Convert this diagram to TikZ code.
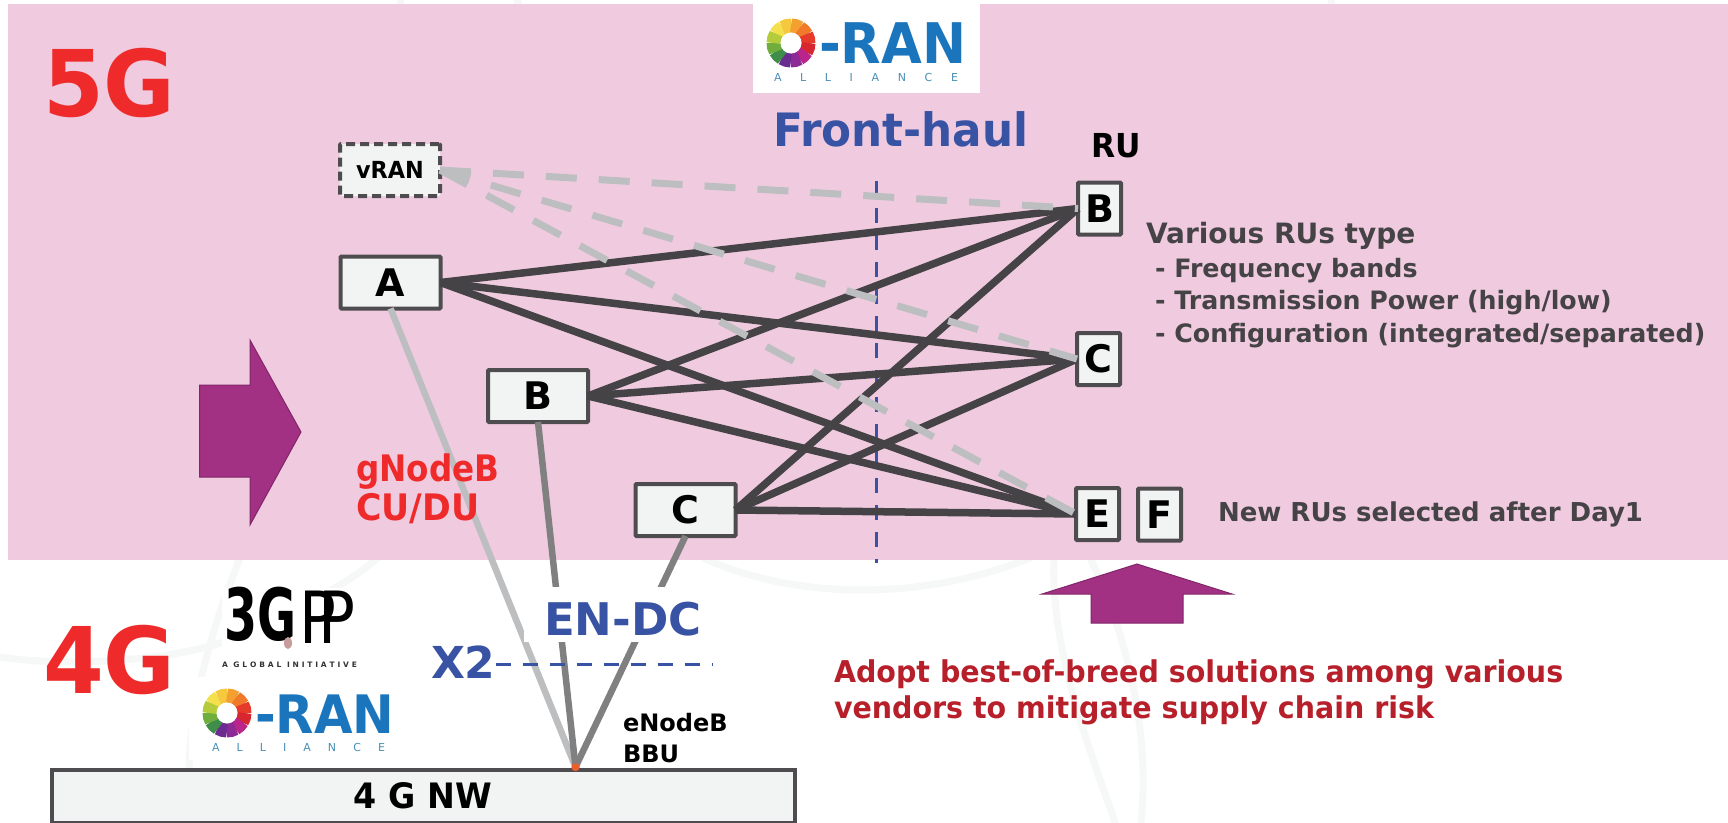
\documentclass[tikz,border=0pt]{standalone}
\usepackage{fontspec}
\setmainfont{DejaVu Sans}
\newfontfamily\narrowf{DejaVu Sans}[FakeStretch=0.95]
\usetikzlibrary{calc}
\definecolor{pinkbg}{HTML}{F0CBE0}
\definecolor{boxfill}{HTML}{F2F4F3}
\definecolor{darkline}{HTML}{454345}
\definecolor{lightline}{HTML}{BCBEC0}
\definecolor{midline}{HTML}{808080}
\definecolor{bluetxt}{HTML}{3953A4}
\definecolor{redtxt}{HTML}{EE2A2A}
\definecolor{darkred}{HTML}{B7202A}
\definecolor{purplearrow}{HTML}{A23083}
\definecolor{swoosh}{HTML}{F6F7F7}
\definecolor{oranblue}{HTML}{1B75BC}
\definecolor{oransmall}{HTML}{4A8FB5}
\definecolor{dotc}{HTML}{E8602C}
\newcommand{\fsz}[1]{\fontsize{#1}{#1}\selectfont\bfseries}
\newcommand{\fsn}[1]{\fontsize{#1}{#1}\selectfont\narrowf\bfseries}
\newcommand{\fsr}[1]{\fontsize{#1}{#1}\selectfont}
\tikzset{
  every node/.style={inner sep=0pt,outer sep=0pt},
  netbox/.style={draw=darkline!95!white,fill=boxfill,line width=4pt,rounded corners=1pt,minimum width=#1,minimum height=52pt,font=\fsz{38},text=black},
  rubox/.style={draw=darkline!95!white,fill=boxfill,line width=4pt,rounded corners=1pt,minimum width=43pt,minimum height=52pt,font=\fsz{38},text=black},
  vranbox/.style={netbox=100pt,dashed,dash pattern=on 9pt off 5pt,font=\fsn{23.5}},
  gnb/.style={anchor=base west,font=\fsn{36.5},text=redtxt},
  bigtxt/.style={anchor=base west,font=\fsn{92},text=redtxt},
  bluelabel/.style={anchor=base west,font=\fsn{46},text=bluetxt},
  rutxt/.style={anchor=base west,font=\fsz{25.3},text=darkline},
  adopttxt/.style={anchor=base west,font=\fsn{30},text=darkred},
  enbtxt/.style={anchor=base west,font=\fsz{24},text=black},
  ifline/.style={draw=darkline,line width=7.5pt},
  vline/.style={draw=lightline,line width=7pt,dash pattern=on 31pt off 22pt},
  backhaul/.style={line width=6.5pt},
  bluedash/.style={draw=bluetxt,line width=3pt,dash pattern=on 15pt off 12pt},
  blockarrow/.style={fill=purplearrow,draw=purplearrow!80!black,line width=1pt},
  swooshline/.style={draw=swoosh,line width=7pt,line cap=round},
  logobg/.style={fill=white,draw=none},
}
\newcommand{\oranring}[2]{%
  \begin{scope}[shift={(#1,#2)}]
  \foreach \aa/\cc in {150/F4E04D,120/F6C83E,90/F4A031,60/F07A2A,30/E63B2A,0/D8262F,-30/B9258A,-60/8E2A96,-90/6A2C91,-120/3E8E4A,-150/6FAE3C,180/B4CC3C}{
    \definecolor{ringc}{HTML}{\cc}
    \draw[line width=14pt,ringc] (\aa:17.5pt) arc[start angle=\aa,delta angle=-32,radius=17.5pt];
  }
  \fill[white] (0,0) circle (10.5pt);
  \end{scope}%
}
\begin{document}
\begin{tikzpicture}[x=1pt,y=-1pt]
\useasboundingbox (0,0) rectangle (1728,822);
\fill[white] (0,0) rectangle (1728,822);
% faint background curves
\draw[swooshline] (0,657) .. controls (70,668) and (190,660) .. (240,635) .. controls (290,612) and (340,590) .. (378,558);
\draw[swooshline] (240,558) .. controls (215,620) and (190,700) .. (189,768);
\draw[swooshline] (704,558) .. controls (770,590) and (900,610) .. (1030,558);
\draw[swooshline] (1054,558) .. controls (1050,650) and (1090,750) .. (1115,822);
\draw[swooshline] (1090,558) .. controls (1130,640) and (1150,740) .. (1141,822);
\draw[swooshline] (400,0) -- (400,6);
\draw[swooshline] (517,0) -- (519,6);
\draw[swooshline] (1331,0) -- (1331,6);
% pink panel
\fill[pinkbg] (8,4) rectangle (1728,560);
% top logo
\fill[logobg] (753,4) rectangle (980,93);
\oranring{791}{43}
\node[anchor=base west,font=\fsz{56},text=oranblue] (oranTop) at (819,63) {\scalebox{.94}[1]{-RAN}};
\node[anchor=base west,font=\fsr{11},text=oransmall] (allianceTop) at (774,81) {\makebox[184pt][s]{A\hfil L\hfil L\hfil I\hfil A\hfil N\hfil C\hfil E}};
% titles
\node[bigtxt] (t5g) at (43,116) {5G};
\node[bigtxt] (t4g) at (43,693) {4G};
\node[bluelabel] (fronthaul) at (773,146) {Front-haul};
\node[anchor=base west,font=\fsn{33},text=black] (ru) at (1091,157) {RU};
% block arrows
\path[blockarrow] (199.5,385) -- (250,385) -- (250,340) -- (301,432) -- (250,525) -- (250,477) -- (199.5,477) -- cycle;
\path[blockarrow] (1137,564) -- (1232,594) -- (1183,594) -- (1183,623) -- (1091,623) -- (1091,594) -- (1042,594) -- cycle;
% divider
\coordinate (fhTop) at (876,181);
\coordinate (fhBot) at (876,563);
\draw[bluedash] (fhTop) -- (fhBot);
% nodes
\node[vranbox] (vran) at (390,170) {vRAN};
\node[netbox=100pt] (duA) at (390.5,282.5) {A};
\node[netbox=100pt] (duB) at (538,396) {B};
\node[netbox=100pt] (duC) at (685.5,510) {C};
\node[rubox] (ruB) at (1099.5,208.5) {B};
\node[rubox] (ruC) at (1098.5,359) {C};
\node[rubox] (ruE) at (1097.5,514) {E};
\node[rubox] (ruF) at (1159.5,514.5) {F};
\node[draw=darkline!95!white,fill=boxfill,line width=4pt,minimum width=743pt,minimum height=53pt,font=\fsn{35},text=black] (nw) at (423,796) {4 G NW};
\node[circle,fill=dotc,minimum size=8pt] (dot) at (575.5,767) {};
% interfaces
\foreach \s in {duA,duB,duC}{
  \foreach \t in {ruB,ruC,ruE}{
    \draw[ifline] (\s.east) -- (\t.west);
  }
}
\foreach \t in {ruB,ruC,ruE}{
  \draw[vline] (vran.east) -- (\t.west);
}
% backhaul
\draw[backhaul,draw=lightline] (duA.south) -- (dot.center);
\draw[backhaul,draw=midline] (duB.south) -- (dot.center);
\draw[backhaul,draw=midline] (duC.south) -- (dot.center);
\node[circle,fill=dotc,minimum size=8pt] (dotTop) at (dot.center) {};
% EN-DC and X2
\node[fill=white,minimum width=176pt,minimum height=55pt] (endcBg) at (612,614.5) {};
\node[anchor=base west,font=\fsz{45},text=bluetxt] (endc) at (544,635) {EN-DC};
\node[anchor=base west,font=\fsz{44},text=bluetxt] (x2) at (431,678) {X2};
\coordinate (xEnd) at (712,664);
\draw[bluedash] (x2.east |- xEnd) -- (xEnd);
% texts
\node[gnb] (gnb1) at (356,481) {\scalebox{.94}[1]{gNodeB}};
\node[gnb] (gnb2) at (356,520) {CU/DU};
\node[anchor=base west,font=\fsz{28},text=darkline] (rutitle) at (1146,243) {Various RUs type};
\node[rutxt] (ru1) at (1155,277) {- Frequency bands};
\node[rutxt] (ru2) at (1155,309) {- Transmission Power (high/low)};
\node[rutxt] (ru3) at (1155,342) {- Configuration (integrated/separated)};
\node[anchor=base west,font=\fsz{26},text=darkline] (newru) at (1218,521) {New RUs selected after Day1};
\node[adopttxt] (adopt1) at (834,682) {Adopt best-of-breed solutions among various};
\node[adopttxt] (adopt2) at (834,718) {vendors to mitigate supply chain risk};
\node[enbtxt] (enb1) at (623,731) {eNodeB};
\node[enbtxt] (enb2) at (623,762) {BBU};
% 3GPP logo
\fill[logobg] (222,588) rectangle (357,668);
\node[anchor=base west,font=\fsz{72},text=black] (tgA) at (224,640) {\scalebox{.66}[1]{3G}};
\node[anchor=base west,font=\fsr{72},text=black] (tgB) at (299,643) {\scalebox{.85}[1]{P\kern-20pt P}};
\fill[red!30!gray!60] (288,643) ellipse (4pt and 6pt);
\node[anchor=base west,font=\fsz{7.5},text=black!80] (tgC) at (222,667) {\makebox[135pt][s]{A\hfil\hfil G\hfil L\hfil O\hfil B\hfil A\hfil L\hfil\hfil I\hfil N\hfil I\hfil T\hfil I\hfil A\hfil T\hfil I\hfil V\hfil E}};
% lower logo
\fill[logobg] (189,677) rectangle (398,760);
\oranring{227}{713}
\node[anchor=base west,font=\fsz{53},text=oranblue] (oranLow) at (255,733) {\scalebox{.94}[1]{-RAN}};
\node[anchor=base west,font=\fsr{11},text=oransmall] (allianceLow) at (212,751) {\makebox[173pt][s]{A\hfil L\hfil L\hfil I\hfil A\hfil N\hfil C\hfil E}};
\end{tikzpicture}
\end{document}
